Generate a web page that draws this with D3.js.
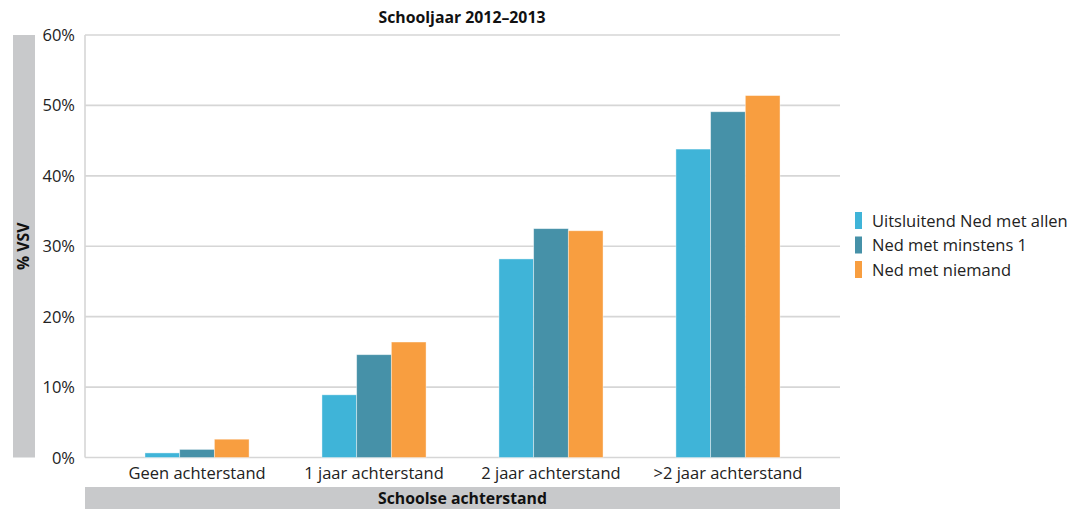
<!DOCTYPE html>
<html><head><meta charset="utf-8">
<script src="https://cdn.jsdelivr.net/npm/d3@7"></script>
<style>body{margin:0;background:#fff}svg{display:block;font-family:"Open Sans","DejaVu Sans",sans-serif}</style>
</head><body><svg id="c" width="1080" height="509"></svg>
<script>
const categories = ["Geen achterstand","1 jaar achterstand","2 jaar achterstand",">2 jaar achterstand"];
const seriesNames = ["Uitsluitend Ned met allen","Ned met minstens 1","Ned met niemand"];
const serie1 = [0.65, 8.9, 28.2, 43.8];
const serie2 = [1.15, 14.6, 32.5, 49.1];
const serie3 = [2.6, 16.4, 32.2, 51.4];
const colors = ["#3fb4d8","#4691a8","#f89e40"];
const yTicks = [0,10,20,30,40,50,60];
const title = "Schooljaar 2012–2013";
const yTitle = "% VSV";
const xTitle = "Schoolse achterstand";

const svg = d3.select("#c");
const L=85,R=840,T=35,B=457.5;
const y = d3.scaleLinear().domain([0,60]).range([B,T]);
const x0 = d3.scaleBand().domain(categories).range([L,R]).paddingInner(0).paddingOuter(0.133);
const x1 = d3.scaleBand().domain([0,1,2]).range([0,x0.bandwidth()]).paddingInner(0).paddingOuter(1.05);
const series=[serie1,serie2,serie3];

svg.append("g").selectAll("line").data(yTicks).join("line")
 .attr("x1",L).attr("x2",R).attr("y1",d=>y(d)).attr("y2",d=>y(d))
 .attr("stroke","#d6d6d6").attr("stroke-width",1.6);
svg.append("line").attr("x1",L).attr("x2",L).attr("y1",T).attr("y2",B).attr("stroke","#d6d6d6").attr("stroke-width",1.6);

svg.append("g").selectAll("text").data(yTicks).join("text")
 .attr("x",75).attr("y",d=>y(d)+6).attr("text-anchor","end")
 .attr("font-size",16.5).attr("fill","#222").text(d=>d+"%");

series.forEach((s,i)=>{
 svg.append("g").selectAll("rect").data(s).join("rect")
  .attr("x",(d,j)=>x0(categories[j])+x1(i)).attr("width",x1.bandwidth())
  .attr("y",d=>y(d)).attr("height",d=>B-y(d))
  .attr("fill",colors[i]).attr("stroke","rgba(255,255,255,0.5)").attr("stroke-width",0.8);
});

svg.append("g").selectAll("text").data(categories).join("text")
 .attr("x",d=>x0(d)+x0.bandwidth()/2).attr("y",479).attr("text-anchor","middle")
 .attr("font-size",16.5).attr("fill","#222").text(d=>d);

svg.append("text").attr("x",462).attr("y",23).attr("text-anchor","middle")
 .attr("font-size",15.8).attr("font-weight","bold").attr("fill","#111").text(title);

svg.append("rect").attr("x",13).attr("y",T).attr("width",22).attr("height",B-T).attr("fill","#c8c9cb");
svg.append("text").attr("transform",`translate(29,${(T+B)/2}) rotate(-90)`).attr("text-anchor","middle")
 .attr("font-size",15.8).attr("font-weight","bold").attr("fill","#111").text(yTitle);

svg.append("rect").attr("x",L).attr("y",487).attr("width",R-L).attr("height",22).attr("fill","#c8c9cb");
svg.append("text").attr("x",(L+R)/2).attr("y",504).attr("text-anchor","middle")
 .attr("font-size",15.8).attr("font-weight","bold").attr("fill","#111").text(xTitle);

const lg = svg.append("g").selectAll("g").data(seriesNames).join("g")
 .attr("transform",(d,i)=>`translate(855,${212+i*24.5})`);
lg.append("rect").attr("width",7).attr("height",17).attr("fill",(d,i)=>colors[i]);
lg.append("text").attr("x",17).attr("y",14.5).attr("font-size",16.5).attr("fill","#222").text(d=>d);
</script></body></html>
